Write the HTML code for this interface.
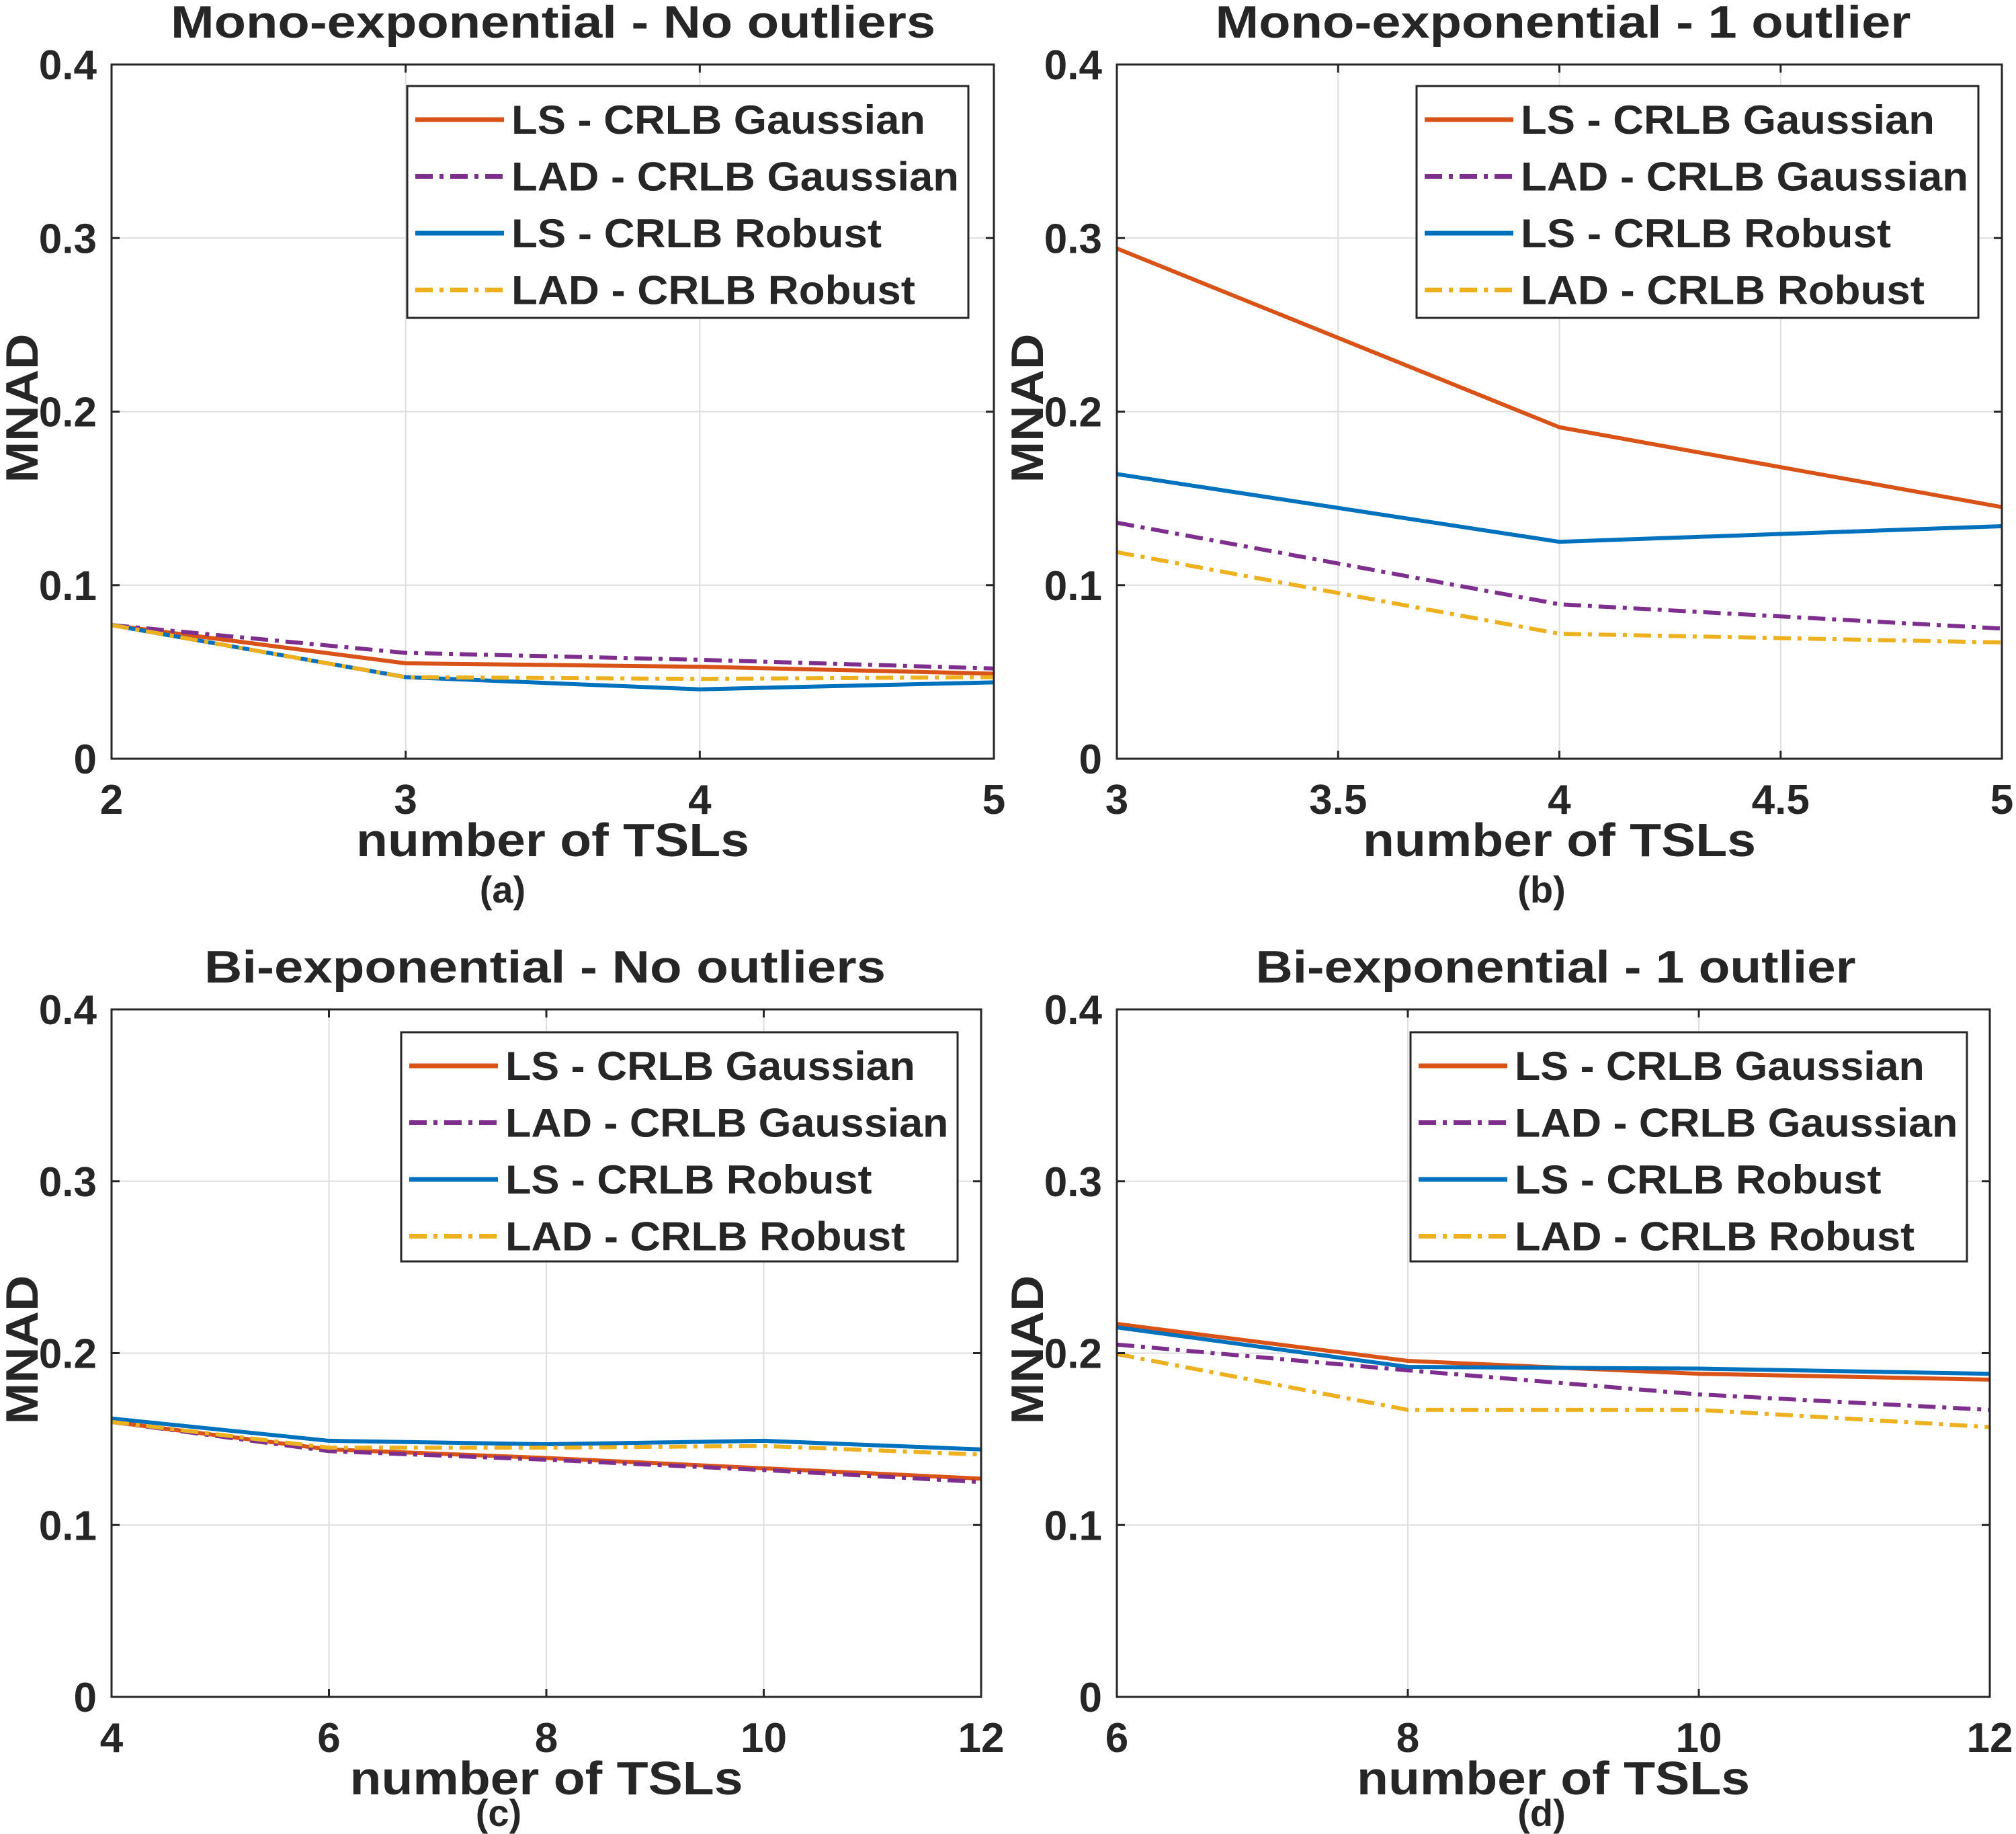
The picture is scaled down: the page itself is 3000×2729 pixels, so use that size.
<!DOCTYPE html>
<html><head><meta charset="utf-8">
<style>
html,body{margin:0;padding:0;background:#fff;}
svg{display:block;}
text{font-family:"Liberation Sans",Arial,sans-serif;font-weight:bold;fill:#262626;}
</style></head>
<body>
<svg id="fig" width="3000" height="2729" viewBox="0 0 3000 2729" xmlns="http://www.w3.org/2000/svg"></svg>
<script>
// ---- data ----
const seriesNames = ["LS - CRLB Gaussian","LAD - CRLB Gaussian","LS - CRLB Robust","LAD - CRLB Robust"];
const yTicks = [0,0.1,0.2,0.3,0.4];
const yTickLabels = ["0","0.1","0.2","0.3","0.4"];

const aX = [2,3,4,5];
const aLSG = [0.077,0.055,0.053,0.049];
const aLADG = [0.077,0.061,0.057,0.052];
const aLSR = [0.077,0.047,0.040,0.044];
const aLADR = [0.077,0.047,0.046,0.047];
const aXTicks = [2,3,4,5];

const bX = [3,4,5];
const bLSG = [0.294,0.191,0.145];
const bLADG = [0.136,0.089,0.075];
const bLSR = [0.164,0.125,0.134];
const bLADR = [0.119,0.072,0.067];
const bXTicks = [3,3.5,4,4.5,5];

const cX = [4,6,8,10,12];
const cLSG = [0.160,0.144,0.139,0.133,0.127];
const cLADG = [0.160,0.143,0.138,0.132,0.125];
const cLSR = [0.162,0.149,0.147,0.149,0.144];
const cLADR = [0.160,0.145,0.145,0.146,0.141];
const cXTicks = [4,6,8,10,12];

const dX = [6,8,10,12];
const dLSG = [0.217,0.1955,0.188,0.1846];
const dLADG = [0.205,0.190,0.176,0.167];
const dLSR = [0.215,0.192,0.191,0.188];
const dLADR = [0.1995,0.167,0.167,0.157];
const dXTicks = [6,8,10,12];

const colors = ["#D95319","#7E2F8E","#0072BD","#EDB120"];
const dashes = [null,"26 10 6 10",null,"26 10 6 10"];
const legendTextW = [616,666,551,601];

const NS = "http://www.w3.org/2000/svg";
const svg = document.getElementById('fig');
function mk(tag, attrs, parent){
  const e = document.createElementNS(NS, tag);
  for (const k in attrs) e.setAttribute(k, attrs[k]);
  (parent||svg).appendChild(e);
  return e;
}

function panel(p){
  const g = mk('g',{});
  
  
  const xs = v => p.x0 + (v - p.xmin)/(p.xmax - p.xmin)*(p.x1 - p.x0);
  const ys = v => p.y1 - v/0.4*(p.y1 - p.y0);
  p.xticks.forEach(t=>{
    const l = mk('line',{x1:xs(t),x2:xs(t),y1:p.y0,y2:p.y1,stroke:'#dedede','stroke-width':2},g);
    
    
  });
  yTicks.forEach(t=>{
    const l = mk('line',{x1:p.x0,x2:p.x1,y1:ys(t),y2:ys(t),stroke:'#dedede','stroke-width':2},g);
    
    
  });
  p.series.forEach((s,i)=>{
    const pts = p.xs.map((x,j)=>xs(x)+','+ys(s[j])).join(' ');
    const a = {points:pts,fill:'none',stroke:colors[i],'stroke-width':6,'stroke-linejoin':'round'};
    if (dashes[i]) a['stroke-dasharray']=dashes[i];
    const pl = mk('polyline',a,g);
    
    
  });
  const box = mk('rect',{x:p.x0,y:p.y0,width:p.x1-p.x0,height:p.y1-p.y0,fill:'none',stroke:'#262626','stroke-width':3},g);
  
  
  p.xticks.forEach(t=>{
    mk('line',{x1:xs(t),x2:xs(t),y1:p.y1,y2:p.y1-12,stroke:'#262626','stroke-width':3},g);
    mk('line',{x1:xs(t),x2:xs(t),y1:p.y0,y2:p.y0+12,stroke:'#262626','stroke-width':3},g);
    const tx = mk('text',{x:xs(t),y:p.y1+82,'text-anchor':'middle','font-size':62},g);
    tx.textContent = String(t);
    
    
  });
  yTicks.forEach((t,i)=>{
    mk('line',{x1:p.x0,x2:p.x0+12,y1:ys(t),y2:ys(t),stroke:'#262626','stroke-width':3},g);
    mk('line',{x1:p.x1,x2:p.x1-12,y1:ys(t),y2:ys(t),stroke:'#262626','stroke-width':3},g);
    const ty = mk('text',{x:p.x0-22,y:ys(t)+22,'text-anchor':'end','font-size':62},g);
    ty.textContent = yTickLabels[i];
    
    
  });
  const ti = mk('text',{x:p.tx,y:p.y0-40,'text-anchor':'middle','font-size':68,textLength:p.tw,lengthAdjust:'spacingAndGlyphs'},g);
  ti.textContent = p.title;
  
  
  const xl = mk('text',{x:(p.x0+p.x1)/2,y:p.y1+145,'text-anchor':'middle','font-size':70,textLength:585,lengthAdjust:'spacingAndGlyphs'},g);
  xl.textContent = 'number of TSLs';
  
  
  const yc = (p.y0+p.y1)/2 - 5;
  const yl = mk('text',{x:p.x0-110,y:yc,'text-anchor':'middle','font-size':68,textLength:222,lengthAdjust:'spacingAndGlyphs',transform:'rotate(-90 '+(p.x0-110)+' '+yc+')'},g);
  yl.textContent = 'MNAD';
  
  
  const sl = mk('text',{x:p.lx,y:p.y1+p.lyo,'text-anchor':'middle','font-size':56},g);
  sl.textContent = '('+p.id+')';
  
  
  const lg = mk('g',{},g);
  
  
  mk('rect',{x:p.lgx,y:p.lgy,width:p.lgw,height:p.lgh,fill:'#fff',stroke:'#262626','stroke-width':3},lg);
  seriesNames.forEach((n,i)=>{
    const cy = p.lgy + 50 + i*84.5;
    const a = {x1:p.lgx+12,x2:p.lgx+144,y1:cy,y2:cy,stroke:colors[i],'stroke-width':7};
    if (dashes[i]) a['stroke-dasharray']=dashes[i];
    const ln = mk('line',a,lg);
    
    
    const t = mk('text',{x:p.lgx+155,y:cy+21,'font-size':60,textLength:legendTextW[i]*p.lsc,lengthAdjust:'spacingAndGlyphs'},lg);
    t.textContent = n;
    
    
  });
}

panel({id:'a',x0:166,x1:1479,y0:96,y1:1129,xmin:2,xmax:5,xs:aX,xticks:aXTicks,series:[aLSG,aLADG,aLSR,aLADR],
  title:'Mono-exponential - No outliers',tx:823,tw:1138,lx:748,lyo:214,lsc:1,lgx:606,lgy:128,lgw:835,lgh:345});
panel({id:'b',x0:1662,x1:2979,y0:96,y1:1129,xmin:3,xmax:5,xs:bX,xticks:bXTicks,series:[bLSG,bLADG,bLSR,bLADR],
  title:'Mono-exponential - 1 outlier',tx:2326,tw:1035,lx:2294,lyo:214,lsc:1,lgx:2108,lgy:128,lgw:836,lgh:345});
panel({id:'c',x0:166,x1:1460,y0:1502,y1:2525,xmin:4,xmax:12,xs:cX,xticks:cXTicks,series:[cLSG,cLADG,cLSR,cLADR],
  title:'Bi-exponential -  No outliers',tx:811,tw:1014,lx:742,lyo:192,lsc:0.99,lgx:597,lgy:1536,lgw:828,lgh:341});
panel({id:'d',x0:1662,x1:2961,y0:1502,y1:2525,xmin:6,xmax:12,xs:dX,xticks:dXTicks,series:[dLSG,dLADG,dLSR,dLADR],
  title:'Bi-exponential - 1 outlier',tx:2315,tw:893,lx:2294,lyo:192,lsc:0.99,lgx:2099,lgy:1536,lgw:828,lgh:341});
</script>
</body></html>
